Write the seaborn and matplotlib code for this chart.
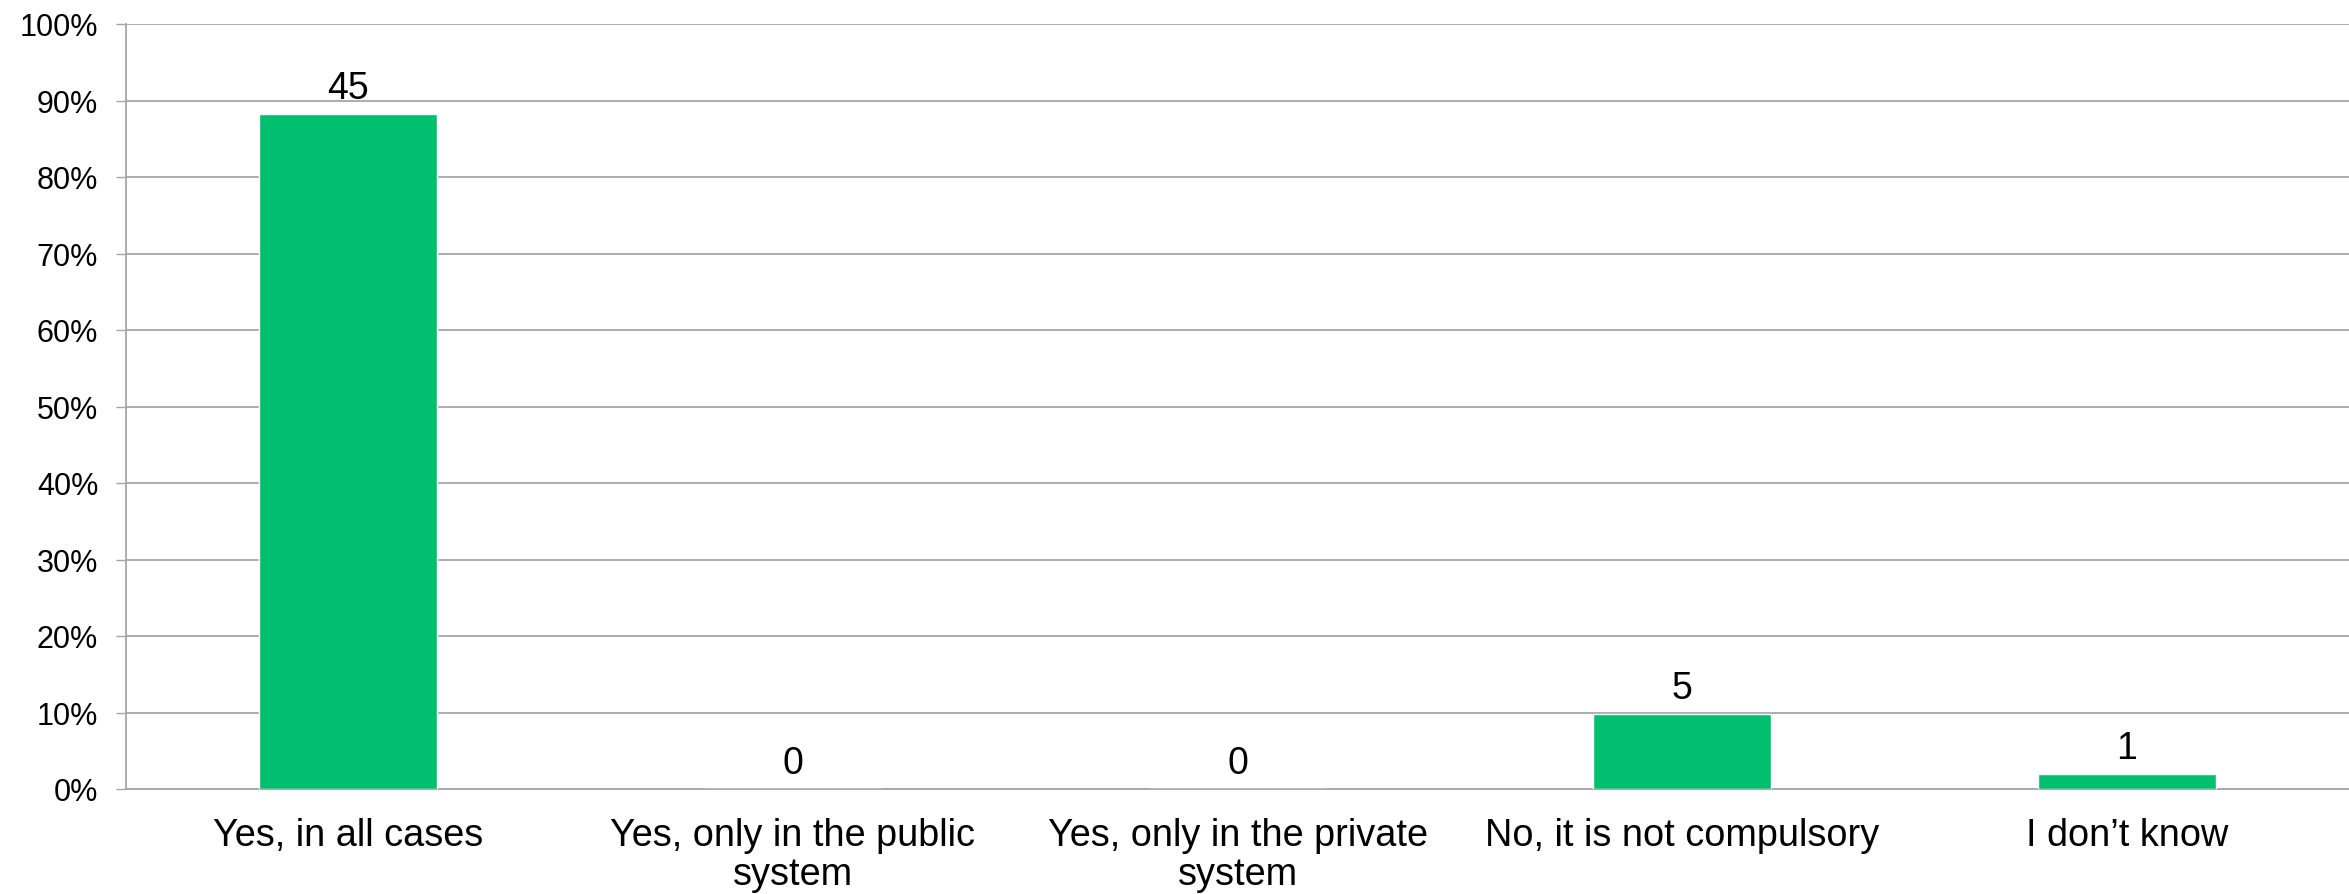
import matplotlib
matplotlib.use("Agg")
import matplotlib.pyplot as plt
import matplotlib.ticker as mticker
import numpy as np
import pandas as pd
import seaborn as sns

categories = [
    "Yes, in all cases",
    "Yes, only in the public\nsystem",
    "Yes, only in the private\nsystem",
    "No, it is not compulsory",
    "I don\u2019t know",
]
counts = [45, 0, 0, 5, 1]
y_ticks = [0.0, 0.1, 0.2, 0.3, 0.4, 0.5, 0.6, 0.7, 0.8, 0.9, 1.0]

total = sum(counts)
df = pd.DataFrame({"category": categories, "count": counts})
df["share"] = df["count"] / total

sns.set_theme(style="white")
plt.rcParams["font.family"] = ["Liberation Sans", "DejaVu Sans"]

GREEN = "#00BF6F"
GRID = "#A6A6A6"

fig = plt.figure(figsize=(23.49, 8.95), dpi=100)
ax = fig.add_axes([126 / 2349, 1 - 790 / 895, 1 - 126 / 2349, (790 - 25) / 895])

sns.barplot(data=df, x="category", y="share", color=GREEN, width=0.4,
            saturation=1, ax=ax, zorder=3)

ax.set_xlim(-0.5, len(categories) - 0.5)
ax.set_ylim(0, 1.0)
ax.set_yticks(y_ticks)
ax.yaxis.set_major_formatter(mticker.PercentFormatter(1.0, decimals=0))
ax.set_xlabel("")
ax.set_ylabel("")

# horizontal gridlines
ax.yaxis.grid(True, color=GRID, linewidth=1.3, zorder=0)
ax.xaxis.grid(False)

# spines
for side in ["top", "right"]:
    ax.spines[side].set_visible(False)
for side in ["left", "bottom"]:
    ax.spines[side].set_color(GRID)
    ax.spines[side].set_linewidth(1.3)

# category separators as minor ticks
ax.set_xticks(np.arange(-0.5, len(categories), 1.0), minor=True)
ax.tick_params(axis="x", which="major", length=0, pad=20, labelsize=27.3)
ax.tick_params(axis="x", which="minor", length=9, width=1.0, color=GRID, direction="out")
ax.tick_params(axis="y", which="major", length=7, width=1.0, color=GRID,
               direction="out", labelsize=22, pad=13, left=True)
for lbl in ax.get_xticklabels():
    lbl.set_linespacing(1.1)
    lbl.set_color("black")
for lbl in ax.get_yticklabels():
    lbl.set_color("black")

# count labels above the bars
for i, (c, s) in enumerate(zip(df["count"], df["share"])):
    ax.annotate(str(c), xy=(i, s), xytext=(0, 6), textcoords="offset points",
                ha="center", va="bottom", fontsize=27, color="black")

fig.savefig("out.png", dpi=100)
